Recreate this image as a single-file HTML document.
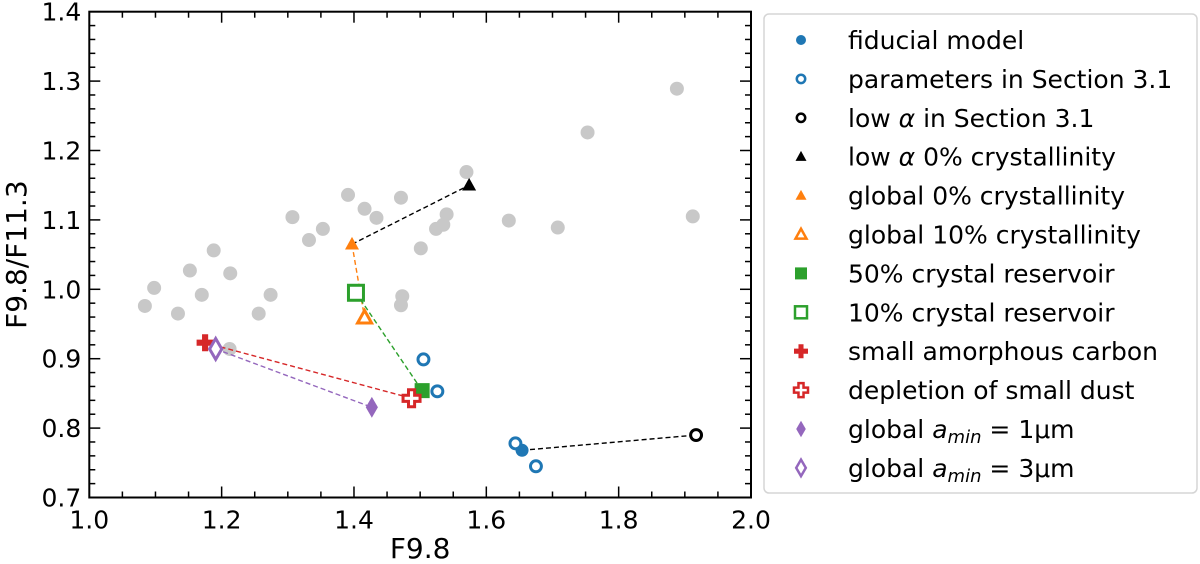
<!DOCTYPE html>
<html><head><meta charset="utf-8"><style>
body{margin:0;background:#fff;}
svg{display:block;font-family:"DejaVu Sans","Liberation Sans",sans-serif;}
</style></head><body>
<svg id="chart" width="1200" height="564" viewBox="0 0 1200 564"></svg>
<script>
const grayX=[1.084,1.098,1.134,1.152,1.170,1.188,1.213,1.212,1.256,1.274,1.307,1.332,1.353,1.391,1.416,1.434,1.471,1.473,1.471,1.501,1.524,1.535,1.540,1.570,1.634,1.708,1.753,1.888,1.912];
const grayY=[0.976,1.002,0.965,1.027,0.992,1.056,1.023,0.914,0.965,0.992,1.104,1.071,1.087,1.136,1.116,1.103,1.132,0.990,0.977,1.059,1.087,1.093,1.108,1.169,1.099,1.089,1.226,1.289,1.105];
const seriesNames=["fiducial model","parameters in Section 3.1","low α in Section 3.1","low α 0% crystallinity","global 0% crystallinity","global  10% crystallinity","50% crystal reservoir","10% crystal reservoir","small amorphous carbon","depletion of small dust","global a_min = 1μm","global a_min = 3μm"];
const seriesX=[[1.654],[1.505,1.526,1.644,1.675],[1.917],[1.574],[1.397],[1.416],[1.503],[1.403],[1.175],[1.487],[1.427],[1.191]];
const seriesY=[[0.768],[0.899,0.853,0.778,0.745],[0.790],[1.150],[1.065],[0.959],[0.854],[0.995],[0.923],[0.843],[0.830],[0.914]];
const xTicks=[1.0,1.2,1.4,1.6,1.8,2.0];
const yTicks=[0.7,0.8,0.9,1.0,1.1,1.2,1.3,1.4];
// connecting dashed lines: [seriesA, seriesB]
const links=[[4,3],[4,5],[7,6],[8,9],[11,10],[0,2]];
const linkColors=['#000','#ff7f0e','#2ca02c','#d62728','#9467bd','#000'];

const NS="http://www.w3.org/2000/svg";
const svg=document.getElementById('chart');
const L=89.3,R=751,T=11.7,B=497.5;
const sx=v=>L+(v-1.0)/(2.0-1.0)*(R-L);
const sy=v=>B-(v-0.7)/(1.4-0.7)*(B-T);
function el(tag,attrs,parent){const e=document.createElementNS(NS,tag);for(const k in attrs)e.setAttribute(k,attrs[k]);(parent||svg).appendChild(e);return e;}
const colors=['#1f77b4','#1f77b4','#000','#000','#ff7f0e','#ff7f0e','#2ca02c','#2ca02c','#d62728','#d62728','#9467bd','#9467bd'];
const shapes=['circle','ocircle','ocircle','tri','tri','otri','sq','osq','plus','oplus','dia','odia'];
function marker(shape,c,x,y,s,sw0,g){
  const filled=!shape.startsWith('o');const base=filled?shape:shape.slice(1);
  const fill=filled?c:'#fff';const sw=filled?0:sw0;
  let e;
  if(base==='circle'){e=el('circle',{cx:x,cy:y,r:filled?s*0.5:s*0.42,fill:fill,stroke:c,'stroke-width':sw},g);}
  else if(base==='tri'){const h=s*0.5;e=el('polygon',{points:`${x},${y-h*1.05} ${x+h},${y+h*0.75} ${x-h},${y+h*0.75}`,fill:fill,stroke:c,'stroke-width':sw},g);}
  else if(base==='sq'){const h=s*0.5;e=el('rect',{x:x-h,y:y-h,width:2*h,height:2*h,fill:fill,stroke:c,'stroke-width':sw},g);}
  else if(base==='plus'){const a=s*0.5,b=s*0.18;e=el('polygon',{points:`${x-b},${y-a} ${x+b},${y-a} ${x+b},${y-b} ${x+a},${y-b} ${x+a},${y+b} ${x+b},${y+b} ${x+b},${y+a} ${x-b},${y+a} ${x-b},${y+b} ${x-a},${y+b} ${x-a},${y-b} ${x-b},${y-b}`,fill:fill,stroke:c,'stroke-width':sw},g);}
  else if(base==='dia'){const w=s*0.32,h=s*0.55;e=el('polygon',{points:`${x},${y-h} ${x+w},${y} ${x},${y+h} ${x-w},${y}`,fill:fill,stroke:c,'stroke-width':sw},g);}
  return e;
}
const plotSize={circle:13,tri:14,sq:15,plus:17,dia:19};
const legSize={circle:10,tri:11,sq:12,plus:14,dia:15};
const baseOf=s=>s.startsWith('o')&&s!=='ocircle'?s.slice(1):(s==='ocircle'?'circle':s);
// gray points
const gg=el('g',{});


for(let i=0;i<grayX.length;i++){
  const c=el('circle',{cx:sx(grayX[i]),cy:sy(grayY[i]),r:7,fill:'#c8c8c8'},gg);
  
  
}
// links
links.forEach(([a,b],k)=>{
  const ln=el('line',{x1:sx(seriesX[a][0]),y1:sy(seriesY[a][0]),x2:sx(seriesX[b][0]),y2:sy(seriesY[b][0]),stroke:linkColors[k],'stroke-width':1.4,'stroke-dasharray':'5,3'});
  
  
});
// series markers
for(let i=0;i<seriesX.length;i++){
  const g=el('g',{});
  
  
  for(let j=0;j<seriesX[i].length;j++){
    const m=marker(shapes[i],colors[i],sx(seriesX[i][j]),sy(seriesY[i][j]),plotSize[baseOf(shapes[i])],3,g);
    
    
  }
}
// frame
const fr=el('rect',{x:L,y:T,width:R-L,height:B-T,fill:'none',stroke:'#000','stroke-width':2});


// ticks
const tg=el('g',{stroke:'#000','stroke-width':1.5});
for(let v=1.0;v<=2.0001;v+=0.05){const x=sx(v);const major=Math.abs(v*5-Math.round(v*5))<1e-6;const len=major?11:6;
  el('line',{x1:x,y1:B,x2:x,y2:B-len},tg);el('line',{x1:x,y1:T,x2:x,y2:T+len},tg);}
for(let v=0.7;v<=1.4001;v+=0.02){const y=sy(v);const major=Math.abs(v*10-Math.round(v*10))<1e-6;const len=major?11:6;
  el('line',{x1:L,y1:y,x2:L+len,y2:y},tg);el('line',{x1:R,y1:y,x2:R-len,y2:y},tg);}
for(const v of xTicks){const t=el('text',{x:sx(v),y:B+31,'font-size':25,'text-anchor':'middle'});t.textContent=v.toFixed(1);
  
  }
for(const v of yTicks){const t=el('text',{x:L-8,y:sy(v)+9,'font-size':25,'text-anchor':'end'});t.textContent=v.toFixed(1);
  
  }
const xt=el('text',{x:(L+R)/2,y:558,'font-size':28,'text-anchor':'middle'});xt.textContent='F9.8';


const yt=el('text',{x:0,y:0,'font-size':28,'text-anchor':'middle',transform:`translate(26,${(T+B)/2}) rotate(-90)`});yt.textContent='F9.8/F11.3';


// legend
const lg=el('g',{});


el('rect',{x:764,y:14,width:433,height:479,rx:5,fill:'#fff',stroke:'#d5d5d5','stroke-width':1.5},lg);
for(let i=0;i<seriesNames.length;i++){
  const y=40+i*38.9;
  const m=marker(shapes[i],colors[i],801,y,legSize[baseOf(shapes[i])],2.5,lg);
  
  
  const t=el('text',{x:848,y:y+9,'font-size':25},lg);
  const n=seriesNames[i];
  if(n.includes('a_min')){
    t.appendChild(document.createTextNode('global '));
    const a=el('tspan',{'font-style':'italic'},t);a.textContent='a';
    const s=el('tspan',{'font-style':'italic','font-size':18,dy:5},t);s.textContent='min';
    const r=el('tspan',{dy:-5},t);r.textContent=' = '+n.split('= ')[1];
  } else if(n.includes('α')){
    const p=n.split('α');t.appendChild(document.createTextNode(p[0]));
    const a=el('tspan',{'font-style':'italic'},t);a.textContent='α';
    t.appendChild(document.createTextNode(p[1]));
  } else t.textContent=n;
  
  
}
</script>
</body></html>
